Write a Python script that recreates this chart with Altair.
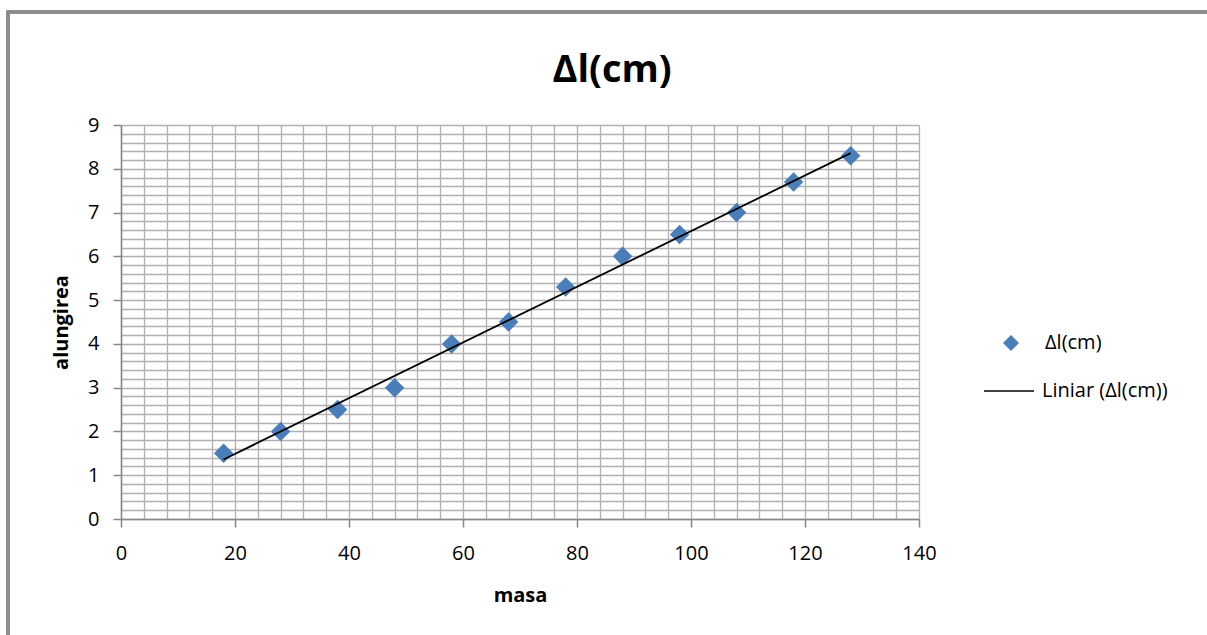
import altair as alt
import pandas as pd

masa = [18, 28, 38, 48, 58, 68, 78, 88, 98, 108, 118, 128]
alungirea = [1.5, 2.0, 2.5, 3.0, 4.0, 4.5, 5.3, 6.0, 6.5, 7.0, 7.7, 8.3]
series_name = "Δl(cm)"
trend_name = "Liniar (Δl(cm))"
x_major = [0, 20, 40, 60, 80, 100, 120, 140]
y_major = [0, 1, 2, 3, 4, 5, 6, 7, 8, 9]

df = pd.DataFrame({"masa": masa, "alungirea": alungirea, "serie": [series_name] * len(masa)})

FONT = "Open Sans"
W, H = 798, 394
PAD_L, PAD_T = 121, 125

x_grid_vals = [i * 4 for i in range(36)]
y_grid_vals = [round(i * 0.2, 1) for i in range(46)]

xs = alt.Scale(domain=[0, 140], nice=False, zero=False)
ys = alt.Scale(domain=[0, 9], nice=False, zero=False)

base = alt.Chart(df)

grid = base.mark_point(opacity=0).encode(
    x=alt.X("masa:Q", scale=xs, axis=alt.Axis(values=x_grid_vals, grid=True, labels=False, ticks=False,
                                              domain=False, title=None, orient="bottom",
                                              gridColor="#b0b0b0", gridWidth=1.3)),
    y=alt.Y("alungirea:Q", scale=ys, axis=alt.Axis(values=y_grid_vals, grid=True, labels=False, ticks=False,
                                                   domain=False, title=None, orient="left",
                                                   gridColor="#b0b0b0", gridWidth=1.3)),
)

frame = base.mark_rect(filled=False, stroke="#8c8c8c", strokeWidth=2.5).encode(
    x=alt.value(8 - PAD_L), x2=alt.value(1300), y=alt.value(12 - PAD_T), y2=alt.value(600)
)

axis_common = dict(grid=False, domainColor="#868686", domainWidth=1.5, tickColor="#868686", tickWidth=1.5,
                   tickSize=8, labelFont=FONT, labelFontSize=20, labelColor="#000000", labelFlush=False,
                   titleFont=FONT, titleFontSize=20, titleFontWeight="bold", titleColor="#000000")

points = base.mark_point(filled=True, shape="diamond", size=380, color="#4a7ebb", opacity=1).encode(
    x=alt.X("masa:Q", scale=xs, axis=alt.Axis(values=x_major, orient="bottom", title="masa",
                                              labelPadding=16, titlePadding=22, **axis_common)),
    y=alt.Y("alungirea:Q", scale=ys, axis=alt.Axis(values=y_major, orient="left", title="alungirea",
                                                   labelPadding=14, titlePadding=16, **axis_common)),
    shape=alt.Shape("serie:N", scale=alt.Scale(domain=[series_name], range=["diamond"]),
                    legend=alt.Legend(title=None, orient="none", legendX=880, legendY=208,
                                      symbolSize=256, symbolFillColor="#4a7ebb", symbolStrokeWidth=0,
                                      labelFont=FONT, labelFontSize=20, labelColor="#000000",
                                      labelOffset=24, padding=0)),
)

trend = base.transform_regression("masa", "alungirea").transform_calculate(
    serie=f"'{trend_name}'"
).mark_line(color="#000000", strokeWidth=1.8).encode(
    x=alt.X("masa:Q", scale=xs, axis=None),
    y=alt.Y("alungirea:Q", scale=ys, axis=None),
    color=alt.Color("serie:N", scale=alt.Scale(domain=[trend_name], range=["#000000"]),
                    legend=alt.Legend(title=None, orient="none", legendX=862, legendY=240,
                                      symbolType="stroke", symbolSize=2500, symbolStrokeWidth=1.5,
                                      labelFont=FONT, labelFontSize=20, labelColor="#000000",
                                      labelOffset=7, padding=0)),
)

chart = alt.layer(frame, grid, points, trend).resolve_axis(
    x="independent", y="independent"
).resolve_legend(shape="independent", color="independent").properties(
    width=W, height=H,
    autosize=alt.AutoSizeParams(type="none"),
    padding={"left": PAD_L, "top": PAD_T, "right": 1207 - PAD_L - W, "bottom": 635 - PAD_T - H},
    title=alt.TitleParams(text=series_name, font=FONT, fontSize=38, fontWeight="bold", color="#000000",
                          anchor="middle", dx=92, offset=-79),
    background="#ffffff",
).configure_view(stroke=None)

chart.save("out.html", embed_options={"renderer": "svg", "actions": False})
